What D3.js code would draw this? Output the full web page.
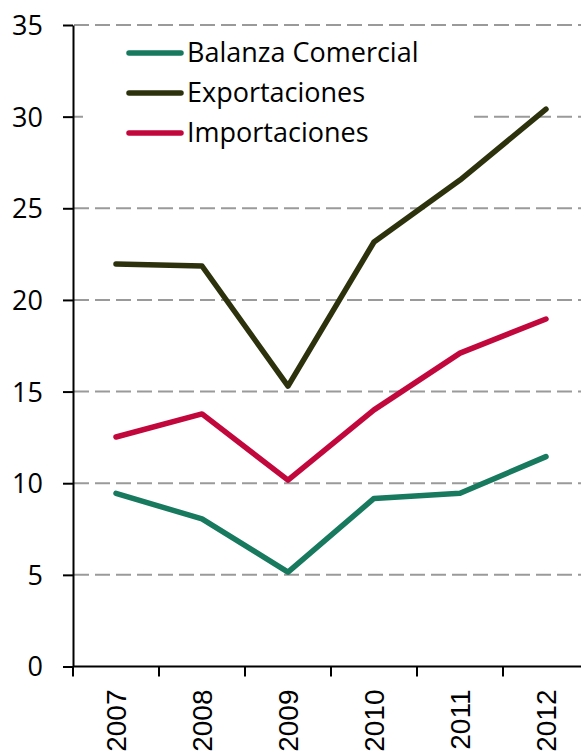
<!DOCTYPE html>
<html>
<head>
<meta charset="utf-8">
<script src="https://cdn.jsdelivr.net/npm/d3@7"></script>
<style>
  body { margin: 0; background: #fff; }
  svg { display: block; }
</style>
</head>
<body>
<svg id="chart" width="581" height="752"></svg>
<script>
var years = ["2007", "2008", "2009", "2010", "2011", "2012"];
var balanza = [9.45, 8.05, 5.15, 9.17, 9.45, 11.45];
var exportaciones = [21.96, 21.85, 15.3, 23.16, 26.54, 30.41];
var importaciones = [12.52, 13.78, 10.17, 14.0, 17.1, 18.96];
var yTicks = [0, 5, 10, 15, 20, 25, 30, 35];

var series = [
  { name: "Balanza Comercial", values: balanza, color: "#17795e" },
  { name: "Exportaciones", values: exportaciones, color: "#2d320c" },
  { name: "Importaciones", values: importaciones, color: "#c2073d" }
];

function draw() {
  var svg = d3.select("#chart");
  var left = 73, bottom = 666.5, plotTop = 25;
  var band = 86;

  var x = d3.scaleBand().domain(years).range([left, left + band * years.length]).padding(0);
  var y = d3.scaleLinear().domain([0, 35]).range([bottom, plotTop]);

  // gridlines
  svg.append("g")
    .selectAll("line")
    .data(yTicks.filter(d => d > 0))
    .enter()
    .append("line")
    .attr("x1", left + 1)
    .attr("x2", 581)
    .attr("y1", d => y(d))
    .attr("y2", d => y(d))
    .attr("stroke", "#9a9a9a")
    .attr("stroke-width", 2)
    .attr("stroke-dasharray", "15,6");

  // y axis
  var yAxis = svg.append("g")
    .attr("transform", `translate(${left},0)`)
    .call(d3.axisLeft(y).tickValues(yTicks).tickSize(10).tickPadding(20).tickSizeOuter(0));
  yAxis.select(".domain").attr("stroke", "#000").attr("stroke-width", 2);
  yAxis.selectAll(".tick line").attr("stroke", "#000").attr("stroke-width", 2);
  yAxis.selectAll("text")
    .attr("font-family", "'Open Sans', sans-serif")
    .attr("font-size", 27)
    .attr("fill", "#000")
    .attr("dy", "0.35em");

  // x axis
  var xAxis = svg.append("g")
    .attr("transform", `translate(0,${bottom})`);
  xAxis.append("line")
    .attr("x1", left)
    .attr("x2", 581)
    .attr("stroke", "#000")
    .attr("stroke-width", 2);
  xAxis.selectAll(".xt")
    .data(years)
    .enter()
    .append("line")
    .attr("x1", d => x(d))
    .attr("x2", d => x(d))
    .attr("y1", 0)
    .attr("y2", 10)
    .attr("stroke", "#000")
    .attr("stroke-width", 2);
  xAxis.selectAll("text")
    .data(years)
    .enter()
    .append("text")
    .attr("transform", d => `translate(${x(d) + x.bandwidth() / 2},23) rotate(-90)`)
    .attr("text-anchor", "end")
    .attr("dy", "0.36em")
    .attr("font-family", "'Liberation Sans', Arial, sans-serif")
    .attr("font-size", 28)
    .attr("fill", "#000")
    .text(d => d);

  // lines
  var line = d3.line()
    .x((d, i) => x(years[i]) + x.bandwidth() / 2)
    .y(d => y(d));

  svg.append("g")
    .selectAll("path")
    .data(series)
    .enter()
    .append("path")
    .attr("d", d => line(d.values))
    .attr("fill", "none")
    .attr("stroke", d => d.color)
    .attr("stroke-width", 5.5)
    .attr("stroke-linecap", "round")
    .attr("stroke-linejoin", "round");

  // legend
  var legend = svg.append("g");
  legend.append("rect")
    .attr("x", 83)
    .attr("y", 30)
    .attr("width", 391)
    .attr("height", 125)
    .attr("fill", "#fff");
  var item = legend.selectAll("g")
    .data(series)
    .enter()
    .append("g")
    .attr("transform", (d, i) => `translate(0,${53 + i * 40})`);
  item.append("line")
    .attr("x1", 129)
    .attr("x2", 181)
    .attr("stroke", d => d.color)
    .attr("stroke-width", 5.5)
    .attr("stroke-linecap", "round");
  item.append("text")
    .attr("x", 187)
    .attr("dy", "0.35em")
    .attr("font-family", "'Open Sans', sans-serif")
    .attr("font-size", 27)
    .attr("fill", "#000")
    .text(d => d.name);
}

draw();
</script>
</body>
</html>
